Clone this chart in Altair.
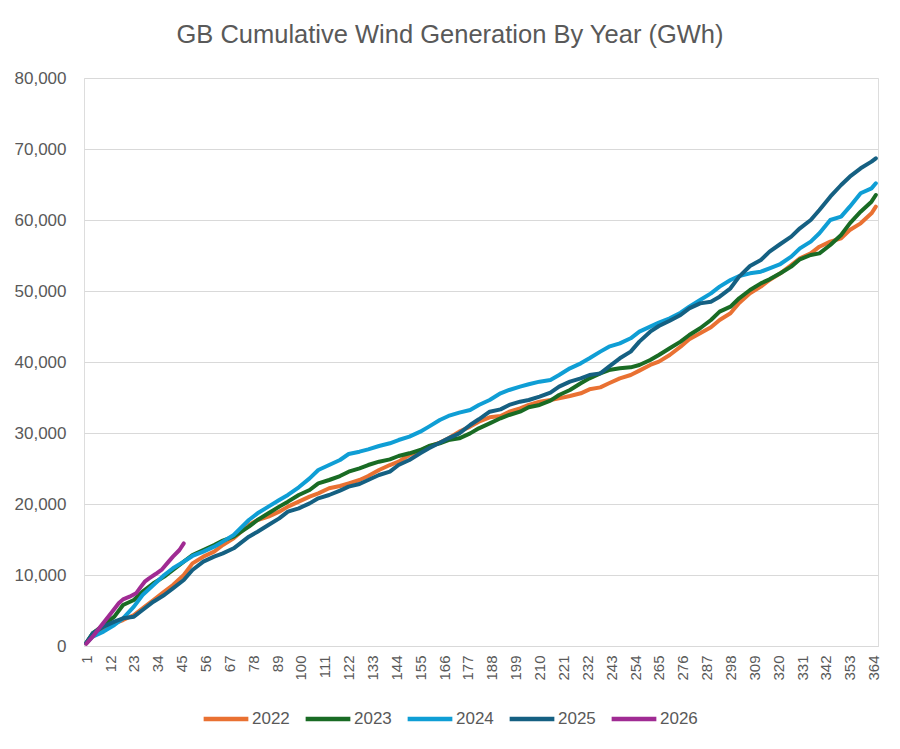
import altair as alt
import pandas as pd

# Day-of-year sample points for 2022-2025
days_main = [1, 4, 9, 14, 18, 23, 27, 32, 37, 41, 46, 50, 55, 60, 64, 69,
             76, 80, 85, 90, 94, 99, 104, 108, 113, 118, 122, 127, 131, 136, 141, 145,
             150, 155, 159, 164, 168, 173, 178, 182, 187, 192, 196, 201, 205, 210, 215, 219, 224,
             229, 233, 238, 242, 247, 252, 256, 261, 265, 270, 275, 279, 284, 289, 293, 298,
             302, 307, 312, 316, 321, 326, 330, 335, 339, 344, 349, 353, 358, 363, 365]

gwh_2022 = [400, 1550, 2490, 3190, 3660, 4370, 5310, 6480, 7650, 8590, 10000, 11640, 12580, 13290, 14230, 15160,
            17040, 17750, 18220, 18920, 19630, 20330, 21030, 21500, 22210, 22540, 22910, 23380, 23940, 24790, 25490, 25960,
            26900, 27510, 28080, 28640, 29250, 30190, 30900, 31600, 32210, 32400, 33000, 33470, 33950, 34410, 34650, 34880, 35210,
            35590, 36150, 36430, 37000, 37700, 38170, 38780, 39580, 40050, 40990, 42160, 43200, 44040, 44890, 45920, 46860,
            48300, 49670, 50610, 51550, 52490, 53660, 54600, 55300, 56240, 56950, 57420, 58590, 59530, 60940, 61880]

gwh_2023 = [400, 1790, 2960, 4130, 5770, 6480, 7650, 8830, 9770, 10700, 11880, 12820, 13520, 14230, 14840, 15400,
            16810, 17750, 18690, 19630, 20330, 21270, 21970, 22910, 23380, 23940, 24550, 25020, 25490, 25960, 26290, 26760,
            27140, 27610, 28170, 28550, 29010, 29250, 29950, 30660, 31360, 32070, 32540, 33000, 33620, 33950, 34550, 35350, 36060,
            37000, 37700, 38400, 38870, 39110, 39250, 39580, 40280, 40990, 41930, 42870, 43800, 44750, 45920, 47090, 47790,
            48970, 50140, 51080, 51640, 52490, 53430, 54460, 55070, 55300, 56480, 57890, 59530, 61170, 62580, 63520]

gwh_2024 = [400, 1310, 2020, 2960, 3900, 5540, 7180, 8590, 10000, 10940, 11880, 12680, 13290, 13990, 14700, 15630,
            17750, 18690, 19630, 20560, 21270, 22350, 23610, 24790, 25490, 26200, 27040, 27370, 27700, 28170, 28550, 29010,
            29490, 30190, 30900, 31830, 32400, 32870, 33240, 33950, 34650, 35590, 36060, 36530, 36860, 37230, 37470, 38170, 39110,
            39810, 40520, 41460, 42160, 42630, 43340, 44270, 44980, 45540, 46150, 46950, 47790, 48730, 49670, 50610, 51550,
            52100, 52490, 52720, 53190, 53800, 54840, 56010, 56950, 58130, 60000, 60470, 61880, 63760, 64460, 65170]

gwh_2025 = [400, 1790, 2720, 3430, 3900, 4130, 5070, 6240, 7180, 8120, 9300, 10700, 11880, 12580, 13050, 13760,
            15400, 16100, 17040, 17980, 18920, 19390, 20090, 20800, 21270, 21880, 22440, 22820, 23380, 24080, 24550, 25490,
            26200, 27140, 27840, 28640, 29250, 29950, 31130, 31930, 33000, 33330, 33950, 34410, 34650, 35120, 35680, 36530, 37230,
            37700, 38170, 38400, 39340, 40520, 41460, 42870, 44270, 45070, 45820, 46620, 47560, 48260, 48500, 49200, 50380,
            52020, 53520, 54370, 55540, 56620, 57650, 58830, 60000, 61410, 63290, 64930, 66100, 67280, 68220, 68690]

days_2026 = [1, 4, 7, 10, 13, 16, 18, 21, 24, 26, 28, 30, 33, 36, 39, 41, 44, 46]
gwh_2026 = [300, 1310, 2490, 3660, 4830, 6010, 6570, 6950, 7420, 8260, 9060, 9530, 10140, 10800,
            11880, 12580, 13520, 14460]

years = ["2022", "2023", "2024", "2025", "2026"]
colors = ["#E97132", "#196B24", "#0F9ED5", "#156082", "#A02B93"]
x_ticks = list(range(1, 365, 11))
y_ticks = list(range(0, 80001, 10000))

rows = []
for yr, vals in zip(years[:4], [gwh_2022, gwh_2023, gwh_2024, gwh_2025]):
    for d, v in zip(days_main, vals):
        rows.append({"day": d, "gwh": v, "year": yr})
for d, v in zip(days_2026, gwh_2026):
    rows.append({"day": d, "gwh": v, "year": "2026"})
df = pd.DataFrame(rows)

text_color = "#595959"
font = "Liberation Sans"

chart = alt.Chart(df).mark_line(strokeWidth=4, strokeCap="round", strokeJoin="round").encode(
    x=alt.X("day:Q",
            scale=alt.Scale(domain=[0, 366], nice=False, zero=False),
            axis=alt.Axis(values=x_ticks, labelAngle=-90, grid=False, ticks=False,
                          domain=True, domainColor="#d9d9d9", domainWidth=1,
                          labelFontSize=15, labelColor=text_color, labelFont=font,
                          labelPadding=9, title=None, labelFlush=False,
                          labelOverlap=False, format="d")),
    y=alt.Y("gwh:Q",
            scale=alt.Scale(domain=[0, 80000], nice=False),
            axis=alt.Axis(values=y_ticks, format=",.0f", grid=True, gridColor="#d9d9d9",
                          gridWidth=1, domain=False, ticks=False, labelFontSize=17,
                          labelColor=text_color, labelFont=font, labelPadding=18,
                          title=None)),
    color=alt.Color("year:N",
                    scale=alt.Scale(domain=years, range=colors),
                    legend=alt.Legend(title=None, orient="none", direction="horizontal",
                                      legendX=117, legendY=616,
                                      symbolType="stroke", symbolSize=2000,
                                      symbolStrokeWidth=4.5, labelFontSize=17,
                                      labelColor=text_color, labelFont=font,
                                      columnPadding=6, labelOffset=1)),
    order=alt.Order("day:Q"),
).properties(
    width=794,
    height=568,
    title=alt.TitleParams("GB Cumulative Wind Generation By Year (GWh)",
                          fontSize=25.5, font=font, color=text_color,
                          fontWeight="normal", anchor="middle", dx=-31,
                          frame="group", baseline="alphabetic", offset=1),
    autosize=alt.AutoSizeParams(type="none"),
    padding={"left": 76, "top": 70, "right": 14, "bottom": 95},
).configure_view(stroke=None).configure(background="white")

chart.save("out.html", embed_options={"renderer": "svg", "actions": False})
